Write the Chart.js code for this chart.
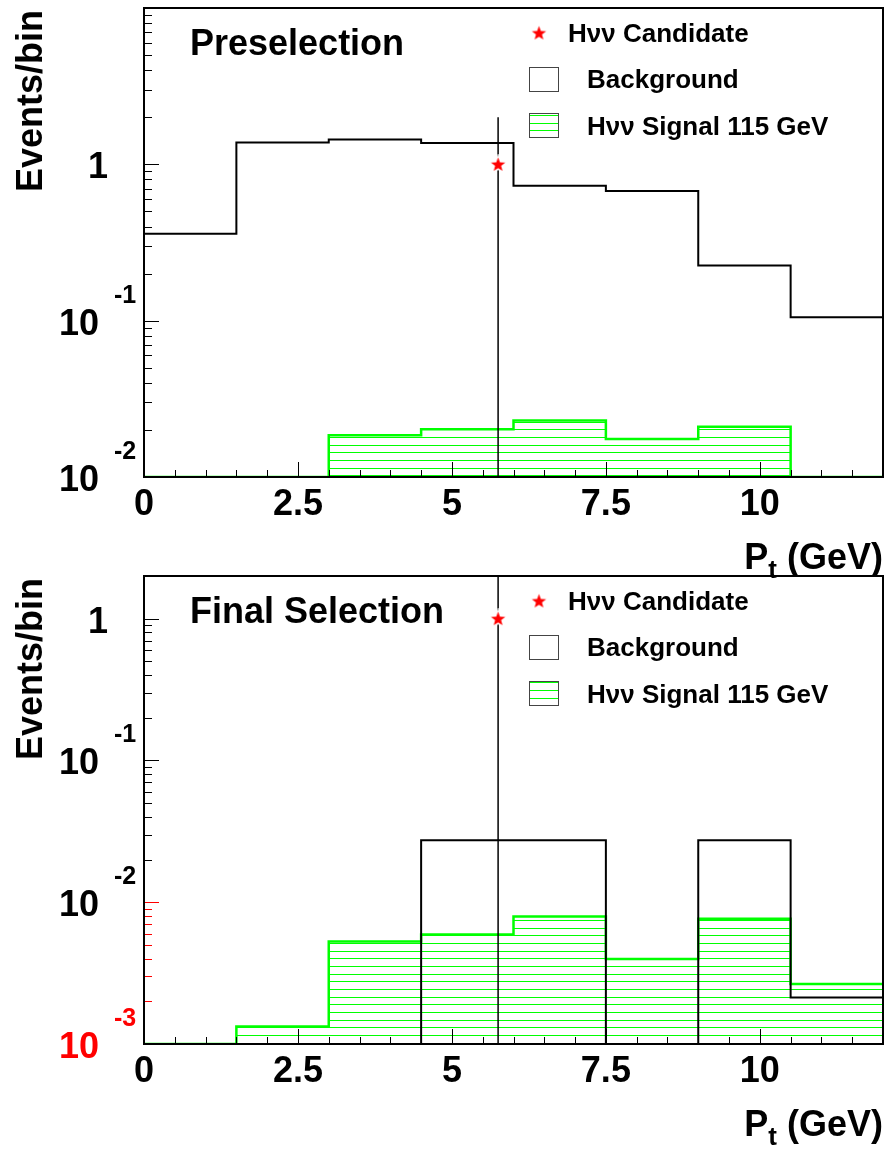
<!DOCTYPE html>
<html lang="en">
<head>
<meta charset="UTF-8" />
<title>Pt distributions - Preselection / Final Selection</title>
<script src="https://cdn.jsdelivr.net/npm/chart.js"></script>
<style>
    body { margin: 0; background: #fff; overflow: hidden; }
    .wrap { position: relative; width: 885px; height: 1151px; }
    .wrap canvas { position: absolute; left: 0; top: 0; }
</style>
</head>
<body>
<div class="wrap">
    <canvas id="pre" width="885" height="1151"></canvas>
    <canvas id="fin" width="885" height="1151"></canvas>
</div>
<script>
// bin edges in Pt (GeV), 8 bins of 1.5 GeV
const binEdges = [0, 1.5, 3, 4.5, 6, 7.5, 9, 10.5, 12];
const xTickValues = [0, 2.5, 5, 7.5, 10];

// Preselection
const preBackground = [0.36, 1.38, 1.44, 1.37, 0.73, 0.675, 0.225, 0.105];
const preSignal = [0, 0, 0.0185, 0.0202, 0.023, 0.0175, 0.021, 0];

// Final selection
const finBackground = [0, 0, 0, 0.0274, 0.0274, 0, 0.0274, 0.00213];
const finSignal = [0, 0.00133, 0.00528, 0.00591, 0.00792, 0.00397, 0.00764, 0.00265];

// the candidate event
const candX = [5.75];
const candY = [1];
const candErrLow = [1];
const candErrHigh = [1];

// y tick labels (10 with exponent)
const preYTicks = [1, 0.1, 0.01];
const preYBase = ["1", "10", "10"];
const preYExp = ["", "-1", "-2"];
const finYTicks = [1, 0.1, 0.01, 0.001];
const finYBase = ["1", "10", "10", "10"];
const finYExp = ["", "-1", "-2", "-3"];

const legendLabels = ["H\u03bd\u03bd Candidate", "Background", "H\u03bd\u03bd Signal 115 GeV"];

const FONT = '"Liberation Sans", Arial, Helvetica, sans-serif';
const GREEN = "rgb(0,255,0)";

// horizontal hatch like ROOT fill style
function makeHatch() {
    const c = document.createElement("canvas");
    c.width = 8;
    c.height = 23;
    const g = c.getContext("2d");
    g.fillStyle = GREEN;
    [0, 8, 15].forEach((r) => g.fillRect(0, r, 8, 1));
    return g.createPattern(c, "repeat");
}

function makeStar(r) {
    const c = document.createElement("canvas");
    const s = Math.ceil(r * 2 + 6);
    c.width = c.height = s;
    const g = c.getContext("2d");
    g.translate(s / 2, s / 2 + 0.5);
    g.beginPath();
    for (let i = 0; i < 10; i++) {
        const rad = i % 2 ? r * 0.42 : r;
        const ang = -Math.PI / 2 + (i * Math.PI) / 5;
        g.lineTo(rad * Math.cos(ang), rad * Math.sin(ang));
    }
    g.closePath();
    g.strokeStyle = "#fff";
    g.lineWidth = 3;
    g.stroke();
    g.fillStyle = "red";
    g.fill();
    return c;
}

const hatch = makeHatch();
const star = makeStar(7.5);

// points at bin low edges + closing point at the upper edge
function stepPoints(vals, ymin) {
    const pts = vals.map((v, i) => ({ x: binEdges[i], y: v > 0 ? v : ymin }));
    pts.push({ x: binEdges[binEdges.length - 1], y: pts[pts.length - 1].y });
    return pts;
}

function font(size) {
    return "bold " + size + "px " + FONT;
}

function framePlugin(c) {
    return {
        id: "rootFrame",
        afterDatasetsDraw(chart) {
            const { ctx, chartArea: a, scales } = chart;
            const x = scales.x, y = scales.y;
            ctx.save();

            // ticks on x axis
            ctx.lineWidth = 1;
            ctx.strokeStyle = "#000";
            for (let v = 0; v <= 12.001; v += 0.5) {
                const px = Math.round(x.getPixelForValue(v)) + 0.5;
                const major = xTickValues.includes(v);
                ctx.beginPath();
                ctx.moveTo(px, a.bottom);
                ctx.lineTo(px, a.bottom - (major ? 15 : 7));
                ctx.stroke();
            }
            // ticks on log y axis
            const e0 = Math.floor(Math.log10(y.min));
            const e1 = Math.ceil(Math.log10(y.max));
            for (let e = e0; e <= e1; e++) {
                for (let k = 1; k <= 9; k++) {
                    const v = k * Math.pow(10, e);
                    if (v < y.min * 0.999 || v > y.max * 1.001) continue;
                    const py = Math.round(y.getPixelForValue(v)) + 0.5;
                    ctx.strokeStyle = v <= c.redBelow ? "rgb(255,0,0)" : "#000";
                    ctx.beginPath();
                    ctx.moveTo(a.left, py);
                    ctx.lineTo(a.left + (k === 1 ? 15 : 8), py);
                    ctx.stroke();
                }
            }

            // frame
            ctx.strokeStyle = "#000";
            ctx.lineWidth = 2;
            ctx.strokeRect(a.left, a.top, a.right - a.left, a.bottom - a.top);

            // y tick labels
            ctx.textBaseline = "alphabetic";
            c.yTicks.forEach((v, i) => {
                const py = y.getPixelForValue(v);
                ctx.fillStyle = c.yColors[i];
                ctx.font = font(36);
                ctx.textAlign = "right";
                if (c.yExp[i]) {
                    ctx.fillText(c.yBase[i], 99, py + 14);
                    ctx.font = font(25);
                    ctx.textAlign = "left";
                    ctx.fillText(c.yExp[i], 114, py - 18);
                } else {
                    ctx.fillText(c.yBase[i], 108, py + 14);
                }
            });

            ctx.fillStyle = "#000";
            // y title
            ctx.save();
            ctx.translate(42, a.top + 2);
            ctx.rotate(-Math.PI / 2);
            ctx.font = font(36);
            ctx.textAlign = "right";
            ctx.fillText("Events/bin", 0, 0);
            ctx.restore();

            // x title P_t (GeV)
            ctx.textAlign = "left";
            ctx.font = font(36);
            const wP = ctx.measureText("P").width;
            const wRest = ctx.measureText(" (GeV)").width;
            ctx.font = font(26);
            const wt = ctx.measureText("t").width;
            const sx = a.right - (wP + wt + wRest);
            const by = a.bottom + 92;
            ctx.font = font(36);
            ctx.fillText("P", sx, by);
            ctx.font = font(26);
            ctx.fillText("t", sx + wP, by + 9);
            ctx.font = font(36);
            ctx.fillText(" (GeV)", sx + wP + wt, by);

            // panel title
            ctx.fillText(c.title, 190, a.top + 47);

            // legend
            const T = a.top;
            ctx.drawImage(star, 539 - star.width / 2, T + 25 - star.height / 2);
            ctx.font = font(26);
            ctx.fillText(legendLabels[0], 568, T + 34);
            ctx.lineWidth = 1;
            ctx.strokeStyle = "#444";
            ctx.fillStyle = "#fff";
            ctx.fillRect(529.5, T + 59.5, 29, 24);
            ctx.strokeRect(529.5, T + 59.5, 29, 24);
            ctx.fillStyle = "#000";
            ctx.fillText(legendLabels[1], 587, T + 80);
            ctx.fillStyle = hatch;
            ctx.fillRect(529.5, T + 105.5, 29, 24);
            ctx.strokeRect(529.5, T + 105.5, 29, 24);
            ctx.fillStyle = "#000";
            ctx.fillText(legendLabels[2], 587, T + 127);

            ctx.restore();
        },
    };
}

function makeChart(id, cfg) {
    const ymin = cfg.ymin;
    const errPts = [
        { x: candX[0], y: Math.max(candY[0] - candErrLow[0], ymin) },
        { x: candX[0], y: candY[0] + candErrHigh[0] },
    ];
    return new Chart(document.getElementById(id), {
        type: "line",
        data: {
            datasets: [
                {
                    label: legendLabels[0],
                    data: candX.map((v, i) => ({ x: v, y: candY[i] })),
                    showLine: false,
                    pointStyle: star,
                    pointRadius: 7,
                },
                {
                    label: "error",
                    data: errPts,
                    borderColor: "#000",
                    borderWidth: 1.5,
                    pointRadius: 0,
                    fill: false,
                },
                {
                    label: legendLabels[1],
                    data: stepPoints(cfg.background, ymin),
                    stepped: true,
                    borderColor: "#000",
                    borderWidth: 2,
                    pointRadius: 0,
                    fill: false,
                },
                {
                    label: legendLabels[2],
                    data: stepPoints(cfg.signal, ymin),
                    stepped: true,
                    borderColor: GREEN,
                    borderWidth: 2.5,
                    backgroundColor: hatch,
                    pointRadius: 0,
                    fill: "start",
                },
            ],
        },
        options: {
            responsive: false,
            animation: false,
            events: [],
            layout: { padding: cfg.padding, autoPadding: false },
            plugins: { legend: { display: false }, tooltip: { enabled: false } },
            scales: {
                x: {
                    type: "linear",
                    min: 0,
                    max: 12,
                    afterBuildTicks: (s) => {
                        s.ticks = xTickValues.map((v) => ({ value: v }));
                    },
                    afterFit: (s) => {
                        s.height = 60;
                    },
                    grid: { display: false, drawTicks: false },
                    border: { display: false },
                    ticks: {
                        autoSkip: false,
                        maxRotation: 0,
                        padding: 6,
                        color: "#000",
                        font: { family: FONT, size: 36, weight: "bold" },
                        callback: (v) => String(v),
                    },
                },
                y: {
                    type: "logarithmic",
                    min: ymin,
                    max: cfg.ymax,
                    afterFit: (s) => {
                        s.width = 144;
                    },
                    grid: { display: false, drawTicks: false },
                    border: { display: false },
                    ticks: { display: false },
                },
            },
        },
        plugins: [framePlugin(cfg)],
    });
}

makeChart("pre", {
    ymin: 0.01,
    ymax: 10,
    background: preBackground,
    signal: preSignal,
    padding: { top: 8, left: 0, right: 2, bottom: 1151 - 477 - 60 },
    title: "Preselection",
    yTicks: preYTicks,
    yBase: preYBase,
    yExp: preYExp,
    yColors: ["#000", "#000", "#000"],
    redBelow: 0,
});

makeChart("fin", {
    ymin: 0.001,
    ymax: 2,
    background: finBackground,
    signal: finSignal,
    padding: { top: 576, left: 0, right: 2, bottom: 1151 - 1044 - 60 },
    title: "Final Selection",
    yTicks: finYTicks,
    yBase: finYBase,
    yExp: finYExp,
    yColors: ["#000", "#000", "#000", "rgb(255,0,0)"],
    redBelow: 0.0101,
});
</script>
</body>
</html>
